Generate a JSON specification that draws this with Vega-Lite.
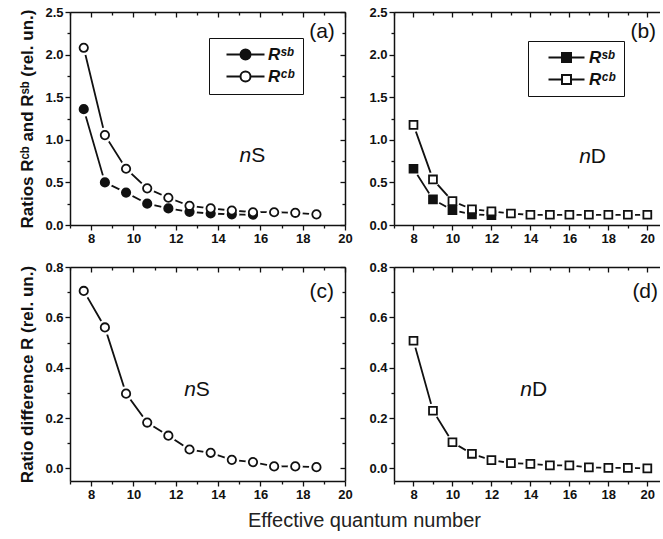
{
  "$schema": "https://vega.github.io/schema/vega-lite/v6.json",
  "padding": {"left": 18, "top": 6, "right": 0, "bottom": 4},
  "background": "white",
  "title": {"text": "Effective quantum number", "orient": "bottom", "anchor": "middle", "fontSize": 20, "fontWeight": "normal", "font": "Liberation Sans", "color": "#222", "offset": 10, "dx": 25},
  "config": {
    "view": {"stroke": null},
    "axis": {"grid": false, "title": null, "labelFont": "Liberation Sans", "labelFontSize": 13, "labelFontWeight": "bold", "labelColor": "#111", "labelPadding": 2, "labelOverlap": false, "labelFlush": false, "domainColor": "#111", "domainWidth": 1.5, "tickColor": "#111", "tickWidth": 1.3, "tickSize": 5, "titleFont": "Liberation Sans", "titleFontSize": 17, "titleFontWeight": "bold", "titleColor": "#111"},
    "text": {"font": "Liberation Sans", "fontSize": 21, "fontWeight": "normal", "color": "#111", "baseline": "middle"}
  },
  "datasets": {
    "one": [{"k": 1}],
    "a": [
      {"x": 7.65, "y": 1.36, "s": "Rˢᵇ"}, {"x": 8.65, "y": 0.5, "s": "Rˢᵇ"}, {"x": 9.65, "y": 0.38, "s": "Rˢᵇ"}, {"x": 10.65, "y": 0.25, "s": "Rˢᵇ"}, {"x": 11.65, "y": 0.195, "s": "Rˢᵇ"}, {"x": 12.65, "y": 0.155, "s": "Rˢᵇ"}, {"x": 13.65, "y": 0.135, "s": "Rˢᵇ"}, {"x": 14.65, "y": 0.125, "s": "Rˢᵇ"}, {"x": 15.65, "y": 0.12, "s": "Rˢᵇ"},
      {"x": 7.65, "y": 2.08, "s": "Rᶜᵇ"}, {"x": 8.65, "y": 1.055, "s": "Rᶜᵇ"}, {"x": 9.65, "y": 0.66, "s": "Rᶜᵇ"}, {"x": 10.65, "y": 0.43, "s": "Rᶜᵇ"}, {"x": 11.65, "y": 0.32, "s": "Rᶜᵇ"}, {"x": 12.65, "y": 0.225, "s": "Rᶜᵇ"}, {"x": 13.65, "y": 0.195, "s": "Rᶜᵇ"}, {"x": 14.65, "y": 0.17, "s": "Rᶜᵇ"}, {"x": 15.65, "y": 0.15, "s": "Rᶜᵇ"}, {"x": 16.65, "y": 0.15, "s": "Rᶜᵇ"}, {"x": 17.65, "y": 0.143, "s": "Rᶜᵇ"}, {"x": 18.65, "y": 0.125, "s": "Rᶜᵇ"}
    ],
    "b": [
      {"x": 8, "y": 0.66, "s": "Rˢᵇ"}, {"x": 9, "y": 0.3, "s": "Rˢᵇ"}, {"x": 10, "y": 0.175, "s": "Rˢᵇ"}, {"x": 11, "y": 0.125, "s": "Rˢᵇ"}, {"x": 12, "y": 0.115, "s": "Rˢᵇ"},
      {"x": 8, "y": 1.175, "s": "Rᶜᵇ"}, {"x": 9, "y": 0.535, "s": "Rᶜᵇ"}, {"x": 10, "y": 0.28, "s": "Rᶜᵇ"}, {"x": 11, "y": 0.185, "s": "Rᶜᵇ"}, {"x": 12, "y": 0.16, "s": "Rᶜᵇ"}, {"x": 13, "y": 0.135, "s": "Rᶜᵇ"}, {"x": 14, "y": 0.12, "s": "Rᶜᵇ"}, {"x": 15, "y": 0.12, "s": "Rᶜᵇ"}, {"x": 16, "y": 0.12, "s": "Rᶜᵇ"}, {"x": 17, "y": 0.12, "s": "Rᶜᵇ"}, {"x": 18, "y": 0.12, "s": "Rᶜᵇ"}, {"x": 19, "y": 0.12, "s": "Rᶜᵇ"}, {"x": 20, "y": 0.12, "s": "Rᶜᵇ"}
    ],
    "c": [
      {"x": 7.65, "y": 0.705}, {"x": 8.65, "y": 0.56}, {"x": 9.65, "y": 0.297}, {"x": 10.65, "y": 0.182}, {"x": 11.65, "y": 0.13}, {"x": 12.65, "y": 0.075}, {"x": 13.65, "y": 0.062}, {"x": 14.65, "y": 0.034}, {"x": 15.65, "y": 0.025}, {"x": 16.65, "y": 0.008}, {"x": 17.65, "y": 0.008}, {"x": 18.65, "y": 0.005}
    ],
    "d": [
      {"x": 8, "y": 0.507}, {"x": 9, "y": 0.229}, {"x": 10, "y": 0.104}, {"x": 11, "y": 0.058}, {"x": 12, "y": 0.033}, {"x": 13, "y": 0.021}, {"x": 14, "y": 0.018}, {"x": 15, "y": 0.012}, {"x": 16, "y": 0.012}, {"x": 17, "y": 0.004}, {"x": 18, "y": 0.002}, {"x": 19, "y": 0.002}, {"x": 20, "y": 0.0}
    ]
  },
  "spacing": 16,
  "vconcat": [
    {
      "spacing": 15,
      "resolve": {"scale": {"x": "independent", "y": "independent", "fill": "independent"}},
      "hconcat": [
        {
          "width": 275, "height": 213,
          "data": {"name": "a"},
          "resolve": {"scale": {"x": "independent", "y": "independent"}},
          "layer": [
            {
              "layer": [
                {"mark": {"type": "line", "color": "#111", "strokeWidth": 1.8},
                 "encoding": {
                   "x": {"field": "x", "type": "quantitative", "scale": {"domain": [7, 20], "nice": false, "zero": false},
                         "axis": {"orient": "bottom", "values": [8,10,12,14,16,18,20]}},
                   "y": {"field": "y", "type": "quantitative", "scale": {"domain": [0, 2.5], "nice": false, "zero": false},
                         "axis": {"orient": "left", "title": "Ratios Rᶜᵇ and Rˢᵇ (rel. un.)", "titlePadding": 8, "format": ".1f", "values": [0,0.5,1,1.5,2,2.5]}},
                   "detail": {"field": "s", "type": "nominal"}
                 }},
                {"mark": {"type": "point", "shape": "circle", "size": 225, "filled": true, "fill": "white", "strokeWidth": 0, "opacity": 1},
                 "encoding": {"x": {"field": "x", "type": "quantitative"}, "y": {"field": "y", "type": "quantitative"}}},
                {"mark": {"type": "point", "shape": "circle", "size": 70, "stroke": "#111", "strokeWidth": 1.8, "opacity": 1},
                 "encoding": {"x": {"field": "x", "type": "quantitative"}, "y": {"field": "y", "type": "quantitative"},
                   "fill": {"field": "s", "type": "nominal", "scale": {"domain": ["Rˢᵇ", "Rᶜᵇ"], "range": ["#111", "white"]},
                     "legend": {"orient": "none", "legendX": 139, "legendY": 26, "title": null, "symbolType": "M-3.8,0H-1M1,0H3.8M-1,0A1,1 0 1,0 1,0A1,1 0 1,0 -1,0Z", "symbolSize": 100, "symbolStrokeColor": "#111", "symbolStrokeWidth": 2, "symbolOpacity": 1, "symbolOffset": 20, "labelOffset": 14, "labelFont": "Liberation Sans", "labelFontSize": 17, "labelFontWeight": "bold", "labelFontStyle": "italic", "labelColor": "#111", "strokeColor": "#111", "padding": 8, "rowPadding": 3}}}},
                {"data": {"name": "one"}, "mark": {"type": "text", "text": "(a)", "align": "right"},
                 "encoding": {"x": {"datum": 19.52}, "y": {"datum": 2.27}}},
                {"data": {"name": "one"}, "mark": {"type": "text", "text": "n", "align": "right", "fontStyle": "italic"},
                 "encoding": {"x": {"datum": 15.57}, "y": {"datum": 0.81}}},
                {"data": {"name": "one"}, "mark": {"type": "text", "text": "S", "align": "left"},
                 "encoding": {"x": {"datum": 15.57}, "y": {"datum": 0.81}}}
              ]
            },
            {"mark": {"type": "point", "opacity": 0},
             "encoding": {
               "x": {"field": "x", "type": "quantitative", "scale": {"domain": [7, 20], "nice": false, "zero": false}, "axis": {"orient": "top", "ticks": false, "labels": false}},
               "y": {"field": "y", "type": "quantitative", "scale": {"domain": [0, 2.5], "nice": false, "zero": false}, "axis": {"orient": "right", "ticks": false, "labels": false}}
             }},
            {"mark": {"type": "point", "opacity": 0},
             "encoding": {
               "x": {"field": "x", "type": "quantitative", "scale": {"domain": [7, 20], "nice": false, "zero": false}, "axis": {"orient": "bottom", "values": [7,9,11,13,15,17,19], "tickSize": 3, "labels": false, "domain": false}},
               "y": {"field": "y", "type": "quantitative", "scale": {"domain": [0, 2.5], "nice": false, "zero": false}, "axis": {"orient": "left", "values": [0.25,0.75,1.25,1.75,2.25], "tickSize": 3, "labels": false, "domain": false}}
             }},
            {"mark": {"type": "point", "opacity": 0},
             "encoding": {
               "x": {"field": "x", "type": "quantitative", "scale": {"domain": [7, 20], "nice": false, "zero": false}, "axis": {"orient": "top", "values": [8,10,12,14,16,18,20], "tickSize": 5, "offset": -5, "labels": false, "domain": false}},
               "y": {"field": "y", "type": "quantitative", "scale": {"domain": [0, 2.5], "nice": false, "zero": false}, "axis": {"orient": "right", "values": [0,0.5,1,1.5,2,2.5], "tickSize": 5, "offset": -5, "labels": false, "domain": false}}
             }},
            {"mark": {"type": "point", "opacity": 0},
             "encoding": {
               "x": {"field": "x", "type": "quantitative", "scale": {"domain": [7, 20], "nice": false, "zero": false}, "axis": {"orient": "top", "values": [7,9,11,13,15,17,19], "tickSize": 3, "offset": -3, "labels": false, "domain": false}},
               "y": {"field": "y", "type": "quantitative", "scale": {"domain": [0, 2.5], "nice": false, "zero": false}, "axis": {"orient": "right", "values": [0.25,0.75,1.25,1.75,2.25], "tickSize": 3, "offset": -3, "labels": false, "domain": false}}
             }}
          ]
        },
        {
          "width": 266, "height": 213,
          "data": {"name": "b"},
          "resolve": {"scale": {"x": "independent", "y": "independent"}},
          "layer": [
            {
              "layer": [
                {"mark": {"type": "line", "color": "#111", "strokeWidth": 1.8},
                 "encoding": {
                   "x": {"field": "x", "type": "quantitative", "scale": {"domain": [7, 20.65], "nice": false, "zero": false},
                         "axis": {"orient": "bottom", "values": [8,10,12,14,16,18,20]}},
                   "y": {"field": "y", "type": "quantitative", "scale": {"domain": [0, 2.5], "nice": false, "zero": false},
                         "axis": {"orient": "left", "format": ".1f", "values": [0,0.5,1,1.5,2,2.5]}},
                   "detail": {"field": "s", "type": "nominal"}
                 }},
                {"mark": {"type": "point", "shape": "circle", "size": 210, "filled": true, "fill": "white", "strokeWidth": 0, "opacity": 1},
                 "encoding": {"x": {"field": "x", "type": "quantitative"}, "y": {"field": "y", "type": "quantitative"}}},
                {"mark": {"type": "point", "shape": "square", "size": 62, "stroke": "#111", "strokeWidth": 1.8, "opacity": 1},
                 "encoding": {"x": {"field": "x", "type": "quantitative"}, "y": {"field": "y", "type": "quantitative"},
                   "fill": {"field": "s", "type": "nominal", "scale": {"domain": ["Rˢᵇ", "Rᶜᵇ"], "range": ["#111", "white"]},
                     "legend": {"orient": "none", "legendX": 134, "legendY": 29, "title": null, "symbolType": "M-3.6,0H-0.9M0.9,0H3.6M-0.9,-0.9H0.9V0.9H-0.9Z", "symbolSize": 100, "symbolStrokeColor": "#111", "symbolStrokeWidth": 2, "symbolOpacity": 1, "symbolOffset": 22, "labelOffset": 14, "labelFont": "Liberation Sans", "labelFontSize": 17, "labelFontWeight": "bold", "labelFontStyle": "italic", "labelColor": "#111", "strokeColor": "#111", "padding": 8, "rowPadding": 4}}}},
                {"data": {"name": "one"}, "mark": {"type": "text", "text": "(b)", "align": "right"},
                 "encoding": {"x": {"datum": 20.45}, "y": {"datum": 2.27}}},
                {"data": {"name": "one"}, "mark": {"type": "text", "text": "n", "align": "right", "fontStyle": "italic"},
                 "encoding": {"x": {"datum": 17.1}, "y": {"datum": 0.8}}},
                {"data": {"name": "one"}, "mark": {"type": "text", "text": "D", "align": "left"},
                 "encoding": {"x": {"datum": 17.1}, "y": {"datum": 0.8}}}
              ]
            },
            {"mark": {"type": "point", "opacity": 0},
             "encoding": {
               "x": {"field": "x", "type": "quantitative", "scale": {"domain": [7, 20.65], "nice": false, "zero": false}, "axis": {"orient": "top", "ticks": false, "labels": false}},
               "y": {"field": "y", "type": "quantitative", "scale": {"domain": [0, 2.5], "nice": false, "zero": false}, "axis": null}
             }},
            {"mark": {"type": "point", "opacity": 0},
             "encoding": {
               "x": {"field": "x", "type": "quantitative", "scale": {"domain": [7, 20.65], "nice": false, "zero": false}, "axis": {"orient": "bottom", "values": [7,9,11,13,15,17,19], "tickSize": 3, "labels": false, "domain": false}},
               "y": {"field": "y", "type": "quantitative", "scale": {"domain": [0, 2.5], "nice": false, "zero": false}, "axis": {"orient": "left", "values": [0.25,0.75,1.25,1.75,2.25], "tickSize": 3, "labels": false, "domain": false}}
             }},
            {"mark": {"type": "point", "opacity": 0},
             "encoding": {
               "x": {"field": "x", "type": "quantitative", "scale": {"domain": [7, 20.65], "nice": false, "zero": false}, "axis": {"orient": "top", "values": [8,10,12,14,16,18,20], "tickSize": 5, "offset": -5, "labels": false, "domain": false}},
               "y": {"field": "y", "type": "quantitative", "scale": {"domain": [0, 2.5], "nice": false, "zero": false}, "axis": null}
             }},
            {"mark": {"type": "point", "opacity": 0},
             "encoding": {
               "x": {"field": "x", "type": "quantitative", "scale": {"domain": [7, 20.65], "nice": false, "zero": false}, "axis": {"orient": "top", "values": [7,9,11,13,15,17,19], "tickSize": 3, "offset": -3, "labels": false, "domain": false}},
               "y": {"field": "y", "type": "quantitative", "scale": {"domain": [0, 2.5], "nice": false, "zero": false}, "axis": null}
             }}
          ]
        }
      ]
    },
    {
      "spacing": 15,
      "resolve": {"scale": {"x": "independent", "y": "independent"}},
      "hconcat": [
        {
          "width": 275, "height": 214,
          "data": {"name": "c"},
          "resolve": {"scale": {"x": "independent", "y": "independent"}},
          "layer": [
            {
              "layer": [
                {"mark": {"type": "line", "color": "#111", "strokeWidth": 1.8},
                 "encoding": {
                   "x": {"field": "x", "type": "quantitative", "scale": {"domain": [7, 20], "nice": false, "zero": false},
                         "axis": {"orient": "bottom", "values": [8,10,12,14,16,18,20]}},
                   "y": {"field": "y", "type": "quantitative", "scale": {"domain": [-0.05, 0.8], "nice": false, "zero": false},
                         "axis": {"orient": "left", "title": "Ratio difference R (rel. un.)", "titlePadding": 8, "format": ".1f", "values": [0,0.2,0.4,0.6,0.8]}}
                 }},
                {"mark": {"type": "point", "shape": "circle", "size": 225, "filled": true, "fill": "white", "strokeWidth": 0, "opacity": 1},
                 "encoding": {"x": {"field": "x", "type": "quantitative"}, "y": {"field": "y", "type": "quantitative"}}},
                {"mark": {"type": "point", "shape": "circle", "size": 70, "stroke": "#111", "fill": "white", "filled": false, "strokeWidth": 1.8, "opacity": 1},
                 "encoding": {"x": {"field": "x", "type": "quantitative"}, "y": {"field": "y", "type": "quantitative"}}},
                {"data": {"name": "one"}, "mark": {"type": "text", "text": "(c)", "align": "right"},
                 "encoding": {"x": {"datum": 19.48}, "y": {"datum": 0.7}}},
                {"data": {"name": "one"}, "mark": {"type": "text", "text": "n", "align": "right", "fontStyle": "italic"},
                 "encoding": {"x": {"datum": 12.95}, "y": {"datum": 0.31}}},
                {"data": {"name": "one"}, "mark": {"type": "text", "text": "S", "align": "left"},
                 "encoding": {"x": {"datum": 12.95}, "y": {"datum": 0.31}}}
              ]
            },
            {"mark": {"type": "point", "opacity": 0},
             "encoding": {
               "x": {"field": "x", "type": "quantitative", "scale": {"domain": [7, 20], "nice": false, "zero": false}, "axis": {"orient": "top", "ticks": false, "labels": false}},
               "y": {"field": "y", "type": "quantitative", "scale": {"domain": [-0.05, 0.8], "nice": false, "zero": false}, "axis": {"orient": "right", "ticks": false, "labels": false}}
             }},
            {"mark": {"type": "point", "opacity": 0},
             "encoding": {
               "x": {"field": "x", "type": "quantitative", "scale": {"domain": [7, 20], "nice": false, "zero": false}, "axis": {"orient": "bottom", "values": [7,9,11,13,15,17,19], "tickSize": 3, "labels": false, "domain": false}},
               "y": {"field": "y", "type": "quantitative", "scale": {"domain": [-0.05, 0.8], "nice": false, "zero": false}, "axis": {"orient": "left", "values": [0.1,0.3,0.5,0.7], "tickSize": 3, "labels": false, "domain": false}}
             }},
            {"mark": {"type": "point", "opacity": 0},
             "encoding": {
               "x": {"field": "x", "type": "quantitative", "scale": {"domain": [7, 20], "nice": false, "zero": false}, "axis": {"orient": "top", "values": [8,10,12,14,16,18,20], "tickSize": 5, "offset": -5, "labels": false, "domain": false}},
               "y": {"field": "y", "type": "quantitative", "scale": {"domain": [-0.05, 0.8], "nice": false, "zero": false}, "axis": {"orient": "right", "values": [0,0.2,0.4,0.6,0.8], "tickSize": 5, "offset": -5, "labels": false, "domain": false}}
             }},
            {"mark": {"type": "point", "opacity": 0},
             "encoding": {
               "x": {"field": "x", "type": "quantitative", "scale": {"domain": [7, 20], "nice": false, "zero": false}, "axis": {"orient": "top", "values": [7,9,11,13,15,17,19], "tickSize": 3, "offset": -3, "labels": false, "domain": false}},
               "y": {"field": "y", "type": "quantitative", "scale": {"domain": [-0.05, 0.8], "nice": false, "zero": false}, "axis": {"orient": "right", "values": [0.1,0.3,0.5,0.7], "tickSize": 3, "offset": -3, "labels": false, "domain": false}}
             }}
          ]
        },
        {
          "width": 266, "height": 214,
          "data": {"name": "d"},
          "resolve": {"scale": {"x": "independent", "y": "independent"}},
          "layer": [
            {
              "layer": [
                {"mark": {"type": "line", "color": "#111", "strokeWidth": 1.8},
                 "encoding": {
                   "x": {"field": "x", "type": "quantitative", "scale": {"domain": [7, 20.65], "nice": false, "zero": false},
                         "axis": {"orient": "bottom", "values": [8,10,12,14,16,18,20]}},
                   "y": {"field": "y", "type": "quantitative", "scale": {"domain": [-0.05, 0.8], "nice": false, "zero": false},
                         "axis": {"orient": "left", "format": ".1f", "values": [0,0.2,0.4,0.6,0.8]}}
                 }},
                {"mark": {"type": "point", "shape": "circle", "size": 210, "filled": true, "fill": "white", "strokeWidth": 0, "opacity": 1},
                 "encoding": {"x": {"field": "x", "type": "quantitative"}, "y": {"field": "y", "type": "quantitative"}}},
                {"mark": {"type": "point", "shape": "square", "size": 62, "stroke": "#111", "fill": "white", "filled": false, "strokeWidth": 1.8, "opacity": 1},
                 "encoding": {"x": {"field": "x", "type": "quantitative"}, "y": {"field": "y", "type": "quantitative"}}},
                {"data": {"name": "one"}, "mark": {"type": "text", "text": "(d)", "align": "right"},
                 "encoding": {"x": {"datum": 20.55}, "y": {"datum": 0.7}}},
                {"data": {"name": "one"}, "mark": {"type": "text", "text": "n", "align": "right", "fontStyle": "italic"},
                 "encoding": {"x": {"datum": 14.08}, "y": {"datum": 0.31}}},
                {"data": {"name": "one"}, "mark": {"type": "text", "text": "D", "align": "left"},
                 "encoding": {"x": {"datum": 14.08}, "y": {"datum": 0.31}}}
              ]
            },
            {"mark": {"type": "point", "opacity": 0},
             "encoding": {
               "x": {"field": "x", "type": "quantitative", "scale": {"domain": [7, 20.65], "nice": false, "zero": false}, "axis": {"orient": "top", "ticks": false, "labels": false}},
               "y": {"field": "y", "type": "quantitative", "scale": {"domain": [-0.05, 0.8], "nice": false, "zero": false}, "axis": null}
             }},
            {"mark": {"type": "point", "opacity": 0},
             "encoding": {
               "x": {"field": "x", "type": "quantitative", "scale": {"domain": [7, 20.65], "nice": false, "zero": false}, "axis": {"orient": "bottom", "values": [7,9,11,13,15,17,19], "tickSize": 3, "labels": false, "domain": false}},
               "y": {"field": "y", "type": "quantitative", "scale": {"domain": [-0.05, 0.8], "nice": false, "zero": false}, "axis": {"orient": "left", "values": [0.1,0.3,0.5,0.7], "tickSize": 3, "labels": false, "domain": false}}
             }},
            {"mark": {"type": "point", "opacity": 0},
             "encoding": {
               "x": {"field": "x", "type": "quantitative", "scale": {"domain": [7, 20.65], "nice": false, "zero": false}, "axis": {"orient": "top", "values": [8,10,12,14,16,18,20], "tickSize": 5, "offset": -5, "labels": false, "domain": false}},
               "y": {"field": "y", "type": "quantitative", "scale": {"domain": [-0.05, 0.8], "nice": false, "zero": false}, "axis": null}
             }},
            {"mark": {"type": "point", "opacity": 0},
             "encoding": {
               "x": {"field": "x", "type": "quantitative", "scale": {"domain": [7, 20.65], "nice": false, "zero": false}, "axis": {"orient": "top", "values": [7,9,11,13,15,17,19], "tickSize": 3, "offset": -3, "labels": false, "domain": false}},
               "y": {"field": "y", "type": "quantitative", "scale": {"domain": [-0.05, 0.8], "nice": false, "zero": false}, "axis": null}
             }}
          ]
        }
      ]
    }
  ]
}
